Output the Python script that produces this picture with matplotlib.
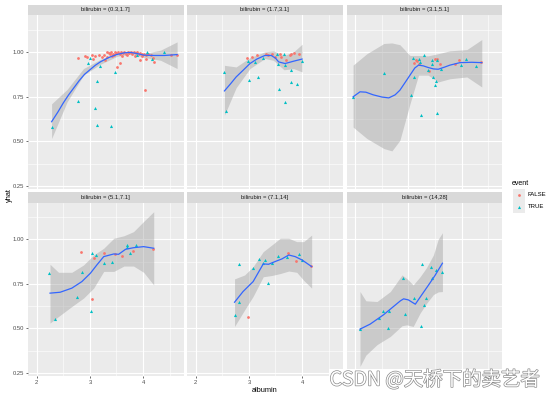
import matplotlib
matplotlib.use("Agg")
import matplotlib.pyplot as plt
import matplotlib.patheffects as pe

plt.rcParams['font.family'] = ['Liberation Sans', 'DejaVu Sans']

# ---- data ----
strip_labels = ["bilirubin = (0.3,1.7]", "bilirubin = (1.7,3.1]", "bilirubin = (3.1,5.1]",
                "bilirubin = (5.1,7.1]", "bilirubin = (7.1,14]", "bilirubin = (14,28]"]

# panel 1 (0.3,1.7]
p1_false_x = [2.77, 2.91, 2.95, 3.04, 3.06, 3.10, 3.18, 3.22, 3.26, 3.28, 3.33, 3.38, 3.42, 3.51, 3.56,
              4.03, 3.95, 4.05, 4.21, 4.18, 4.52, 4.64, 3.98,
              3.32, 3.36, 3.40, 3.44, 3.47, 3.50, 3.53, 3.56, 3.59, 3.62, 3.65, 3.68, 3.71, 3.74, 3.77,
              3.80, 3.83, 3.86, 3.89, 3.92, 3.95, 3.98, 4.02, 4.06, 4.10, 4.14, 3.60, 3.70, 3.85, 3.45]
p1_false_y = [0.968, 0.976, 0.970, 0.985, 0.960, 0.975, 0.980, 0.972, 0.985, 0.955, 0.972, 0.990, 0.978, 0.916, 0.940,
              0.786, 0.953, 0.960, 0.944, 0.965, 0.980, 0.985, 0.975,
              1.000, 0.995, 1.000, 0.990, 1.000, 0.995, 1.000, 0.990, 1.000, 0.995, 1.000, 0.990, 1.000, 0.995, 1.000,
              0.990, 0.998, 0.992, 1.000, 0.990, 0.995, 0.990, 0.990, 0.985, 0.990, 0.980, 0.975, 0.980, 0.975, 0.980]
p1_true_x = [2.28, 2.77, 2.96, 3.01, 3.13, 3.09, 3.14, 3.19, 3.40, 3.48, 4.08, 4.17, 4.40, 3.89]
p1_true_y = [0.580, 0.724, 0.940, 0.966, 0.840, 0.687, 0.594, 0.920, 0.587, 0.890, 1.000, 0.960, 1.000, 0.980]
p1_fit_x = [2.28, 2.40, 2.50, 2.60, 2.70, 2.80, 2.90, 3.00, 3.10, 3.20, 3.35, 3.50, 3.65, 3.76, 3.90, 4.01, 4.20, 4.40, 4.64]
p1_fit_y = [0.610, 0.665, 0.715, 0.760, 0.800, 0.840, 0.875, 0.900, 0.925, 0.945, 0.968, 0.985, 0.995, 0.997, 0.990, 0.982, 0.980, 0.980, 0.985]
p1_band_x = [2.28, 2.57, 2.88, 3.19, 3.51, 3.76, 4.01, 4.33, 4.64]
p1_band_hi = [0.710, 0.790, 0.907, 0.957, 0.995, 1.005, 0.990, 1.010, 1.056]
p1_band_lo = [0.516, 0.720, 0.870, 0.930, 0.975, 0.988, 0.970, 0.953, 0.907]

# panel 2 (1.7,3.1]
p2_false_x = [2.97, 3.06, 3.16, 3.33, 3.36, 3.44, 3.49, 3.59, 3.61, 3.70, 3.77, 3.79, 3.84, 3.94]
p2_false_y = [0.968, 0.972, 0.985, 0.990, 0.985, 0.990, 0.972, 0.990, 0.972, 0.953, 0.985, 0.990, 0.996, 0.990]
p2_true_x = [2.54, 2.56, 3.00, 3.17, 2.98, 3.11, 3.27, 3.52, 3.54, 3.56, 3.66, 3.68, 3.68, 3.79, 3.80, 3.90, 4.00]
p2_true_y = [0.888, 0.670, 0.845, 0.858, 0.950, 0.944, 0.968, 0.990, 0.930, 0.790, 0.990, 0.925, 0.720, 0.900, 0.830, 0.823, 0.950]
p2_fit_x = [2.54, 2.65, 2.76, 2.90, 3.02, 3.15, 3.30, 3.42, 3.50, 3.56, 3.68, 3.84, 4.00]
p2_fit_y = [0.782, 0.820, 0.860, 0.900, 0.935, 0.960, 0.980, 0.980, 0.965, 0.944, 0.935, 0.948, 0.960]
p2_band_x = [2.54, 2.76, 3.02, 3.30, 3.46, 3.66, 3.84, 4.00]
p2_band_hi = [0.925, 0.916, 0.968, 1.000, 1.006, 0.980, 1.000, 1.043]
p2_band_lo = [0.646, 0.800, 0.907, 0.963, 0.953, 0.900, 0.907, 0.888]

# panel 3 (3.1,5.1]
p3_false_x = [3.14, 3.11, 3.17, 3.39, 3.50, 3.54, 3.60, 3.88, 3.96, 4.36, 3.20]
p3_false_y = [0.957, 0.940, 0.948, 0.894, 0.963, 0.963, 0.930, 0.935, 0.953, 0.944, 0.935]
p3_true_x = [1.96, 2.54, 3.04, 3.08, 3.11, 3.20, 3.22, 3.23, 3.29, 3.36, 3.44, 3.44, 3.47, 3.50, 3.51,
             3.53, 3.54, 3.61, 3.98, 4.08, 4.28]
p3_true_y = [0.749, 0.883, 0.762, 0.966, 0.857, 0.963, 0.944, 0.650, 0.980, 0.900, 0.953, 0.935, 0.860, 0.814, 0.838,
             0.953, 0.659, 0.907, 0.925, 0.963, 0.920]
p3_fit_x = [1.96, 2.09, 2.20, 2.34, 2.50, 2.63, 2.75, 2.84, 2.94, 3.03, 3.12, 3.19, 3.28, 3.37, 3.47, 3.56,
            3.68, 3.78, 3.97, 4.19, 4.38]
p3_fit_y = [0.749, 0.777, 0.775, 0.760, 0.748, 0.743, 0.760, 0.786, 0.830, 0.870, 0.910, 0.926, 0.922, 0.913, 0.905, 0.903,
            0.915, 0.926, 0.940, 0.942, 0.940]
p3_band_x = [1.96, 2.22, 2.54, 2.69, 2.84, 3.03, 3.19, 3.37, 3.56, 3.78, 4.10, 4.38]
p3_band_hi = [0.926, 0.990, 1.047, 1.050, 1.040, 0.980, 0.980, 0.978, 0.990, 1.006, 1.013, 1.069]
p3_band_lo = [0.580, 0.516, 0.460, 0.447, 0.506, 0.710, 0.870, 0.870, 0.832, 0.850, 0.860, 0.804]

# panel 4 (5.1,7.1]
p4_false_x = [2.84, 3.07, 3.04, 3.27, 3.48, 3.60, 3.81, 4.19]
p4_false_y = [0.931, 0.894, 0.664, 0.922, 0.916, 0.907, 0.935, 0.946]
p4_true_x = [2.24, 2.35, 2.75, 2.85, 3.04, 3.02, 3.12, 3.27, 3.42, 3.69, 3.70, 3.75, 3.86]
p4_true_y = [0.810, 0.554, 0.674, 0.815, 0.924, 0.600, 0.912, 0.866, 0.871, 0.968, 0.959, 0.925, 0.968]
p4_fit_x = [2.25, 2.44, 2.66, 2.85, 3.01, 3.13, 3.26, 3.45, 3.54, 3.67, 3.82, 4.01, 4.20]
p4_fit_y = [0.698, 0.703, 0.726, 0.763, 0.810, 0.856, 0.903, 0.918, 0.916, 0.944, 0.953, 0.959, 0.950]
p4_band_x = [2.25, 2.41, 2.66, 2.88, 3.07, 3.26, 3.45, 3.64, 3.82, 4.01, 4.20]
p4_band_hi = [0.860, 0.815, 0.815, 0.856, 0.912, 0.950, 1.006, 1.020, 1.043, 1.100, 1.155]
p4_band_lo = [0.530, 0.567, 0.623, 0.670, 0.726, 0.820, 0.820, 0.850, 0.850, 0.815, 0.744]

# panel 5 (7.1,14]
p5_false_x = [2.98, 3.73, 3.89, 4.17]
p5_false_y = [0.563, 0.922, 0.879, 0.849]
p5_true_x = [2.81, 2.74, 2.81, 3.08, 3.19, 3.26, 3.31, 3.35, 3.43, 3.54, 3.71, 3.94, 4.00]
p5_true_y = [0.860, 0.573, 0.651, 0.838, 0.892, 0.866, 0.884, 0.754, 0.866, 0.907, 0.900, 0.918, 0.884]
p5_fit_x = [2.73, 2.89, 3.08, 3.27, 3.37, 3.49, 3.62, 3.75, 3.87, 4.00, 4.18]
p5_fit_y = [0.647, 0.707, 0.763, 0.862, 0.860, 0.875, 0.890, 0.912, 0.903, 0.884, 0.847]
p5_band_x = [2.73, 2.92, 3.08, 3.27, 3.43, 3.59, 3.75, 3.90, 4.03, 4.18]
p5_band_hi = [0.778, 0.800, 0.847, 0.931, 0.968, 1.006, 1.006, 0.987, 0.987, 1.024]
p5_band_lo = [0.511, 0.604, 0.680, 0.790, 0.797, 0.808, 0.822, 0.815, 0.770, 0.726]

# panel 6 (14,28]
p6_false_x = []
p6_false_y = []
p6_true_x = [2.09, 2.44, 2.53, 2.64, 2.61, 2.89, 2.94, 3.11, 3.23, 3.25, 3.30, 3.34, 3.42, 3.45, 3.51, 3.64]
p6_true_y = [0.496, 0.558, 0.595, 0.599, 0.502, 0.782, 0.580, 0.670, 0.515, 0.860, 0.629, 0.670, 0.843, 0.782, 0.828, 0.819]
p6_fit_x = [2.09, 2.28, 2.53, 2.72, 2.85, 2.91, 3.00, 3.13, 3.25, 3.38, 3.50, 3.64]
p6_fit_y = [0.496, 0.524, 0.576, 0.623, 0.655, 0.666, 0.660, 0.636, 0.688, 0.744, 0.797, 0.866]
p6_band_x = [2.09, 2.20, 2.41, 2.66, 2.88, 2.97, 3.09, 3.22, 3.34, 3.47, 3.56, 3.64]
p6_band_hi = [0.707, 0.655, 0.651, 0.707, 0.800, 0.780, 0.744, 0.790, 0.841, 0.912, 1.000, 1.037]
p6_band_lo = [0.287, 0.350, 0.409, 0.455, 0.515, 0.520, 0.511, 0.586, 0.640, 0.690, 0.705, 0.707]

y_ticks = [0.25, 0.50, 0.75, 1.00]
y_tick_labels = ["0.25", "0.50", "0.75", "1.00"]
x_ticks = [2, 3, 4]

panels = [
    (p1_false_x, p1_false_y, p1_true_x, p1_true_y, p1_fit_x, p1_fit_y, p1_band_x, p1_band_lo, p1_band_hi),
    (p2_false_x, p2_false_y, p2_true_x, p2_true_y, p2_fit_x, p2_fit_y, p2_band_x, p2_band_lo, p2_band_hi),
    (p3_false_x, p3_false_y, p3_true_x, p3_true_y, p3_fit_x, p3_fit_y, p3_band_x, p3_band_lo, p3_band_hi),
    (p4_false_x, p4_false_y, p4_true_x, p4_true_y, p4_fit_x, p4_fit_y, p4_band_x, p4_band_lo, p4_band_hi),
    (p5_false_x, p5_false_y, p5_true_x, p5_true_y, p5_fit_x, p5_fit_y, p5_band_x, p5_band_lo, p5_band_hi),
    (p6_false_x, p6_false_y, p6_true_x, p6_true_y, p6_fit_x, p6_fit_y, p6_band_x, p6_band_lo, p6_band_hi),
]

# ---- layout (pixels) ----
W, H = 554, 398
fig = plt.figure(figsize=(W / 100, H / 100), dpi=100)

def rect(l, t, w, h):
    return [l / W, 1 - (t + h) / H, w / W, h / H]

col_left = [28, 187, 346.5]
col_w = 155.5
row_strip_top = [4.7, 192.3]
strip_h = 10.5
row_plot_h = [174, 173.2]

RED = "#F8766D"
CYAN = "#00BFC4"

for i, (fx, fy, tx, ty, lx, ly, bx, blo, bhi) in enumerate(panels):
    r, c = divmod(i, 3)
    st = row_strip_top[r]
    ax = fig.add_axes(rect(col_left[c], st + strip_h, col_w, row_plot_h[r]))
    ax.set_facecolor("#EBEBEB")
    ax.set_xlim(1.836, 4.76)
    ax.set_ylim(0.233, 1.205)
    for s in ax.spines.values():
        s.set_visible(False)
    ax.set_xticks(x_ticks)
    ax.set_xticks([2.5, 3.5, 4.5], minor=True)
    ax.set_yticks(y_ticks)
    ax.set_yticks([0.375, 0.625, 0.875, 1.125], minor=True)
    ax.grid(True, which="major", color="white", lw=0.8)
    ax.grid(True, which="minor", color="white", lw=0.4)
    ax.set_axisbelow(True)
    ax.tick_params(which="minor", length=0)
    ax.tick_params(which="major", length=1.6, width=0.5, color="#333333",
                   labelsize=4.2, labelcolor="#4D4D4D", pad=1)
    if c == 0:
        ax.set_yticklabels(y_tick_labels)
    else:
        ax.tick_params(axis="y", which="major", length=0, labelleft=False)
    # bottom-right tick labels sit under the watermark in the reference
    if r == 1 and c < 2:
        ax.set_xticklabels([str(v) for v in x_ticks])
    else:
        ax.tick_params(axis="x", which="major", length=0, labelbottom=False)

    ax.fill_between(bx, blo, bhi, color="#999999", alpha=0.4, lw=0, zorder=2)
    ax.scatter(fx, fy, s=4, marker="o", color=RED, lw=0, zorder=3)
    ax.scatter(tx, ty, s=5, marker="^", color=CYAN, lw=0, zorder=3)
    ax.plot(lx, ly, color="#3366FF", lw=0.9, zorder=4)

    sax = fig.add_axes(rect(col_left[c], st, col_w, strip_h))
    sax.set_facecolor("#D9D9D9")
    sax.set_xticks([])
    sax.set_yticks([])
    for s in sax.spines.values():
        s.set_visible(False)
    sax.text(0.5, 0.5, strip_labels[i], ha="center", va="center", fontsize=4.2,
             color="#1A1A1A", transform=sax.transAxes)

# axis titles
fig.text(9 / W, 1 - 195 / H, "yhat", rotation=90, ha="center", va="center", fontsize=5.3)
fig.text(265 / W, 1 - 390 / H, "albumin", ha="center", va="center", fontsize=5.3)

# legend
fig.text(512 / W, 1 - 183 / H, "event", ha="left", va="center", fontsize=5)
for k, (lab, col, mk) in enumerate([("FALSE", RED, "o"), ("TRUE", CYAN, "^")]):
    top = 189 + k * 12
    kax = fig.add_axes(rect(513, top, 12, 12))
    kax.set_facecolor("#EBEBEB")
    kax.set_xlim(0, 1)
    kax.set_ylim(0, 1)
    kax.set_xticks([])
    kax.set_yticks([])
    for s in kax.spines.values():
        s.set_visible(False)
    kax.scatter([0.5], [0.5], s=4 if mk == "o" else 5, marker=mk, color=col, lw=0)
    fig.text(528 / W, 1 - (top + 6) / H, lab, ha="left", va="center", fontsize=4.3)

# watermark
fig.text(435 / W, 1 - 380 / H, "CSDN @天桥下的卖艺者", ha="center", va="center", fontsize=14,
         family=["Noto Sans CJK SC", "DejaVu Sans"], color="white",
         path_effects=[pe.withStroke(linewidth=1.0, foreground="#8c8c8c")],
         bbox=dict(facecolor="white", edgecolor="none", pad=0.5), zorder=10)

fig.savefig("out.png", dpi=100)
